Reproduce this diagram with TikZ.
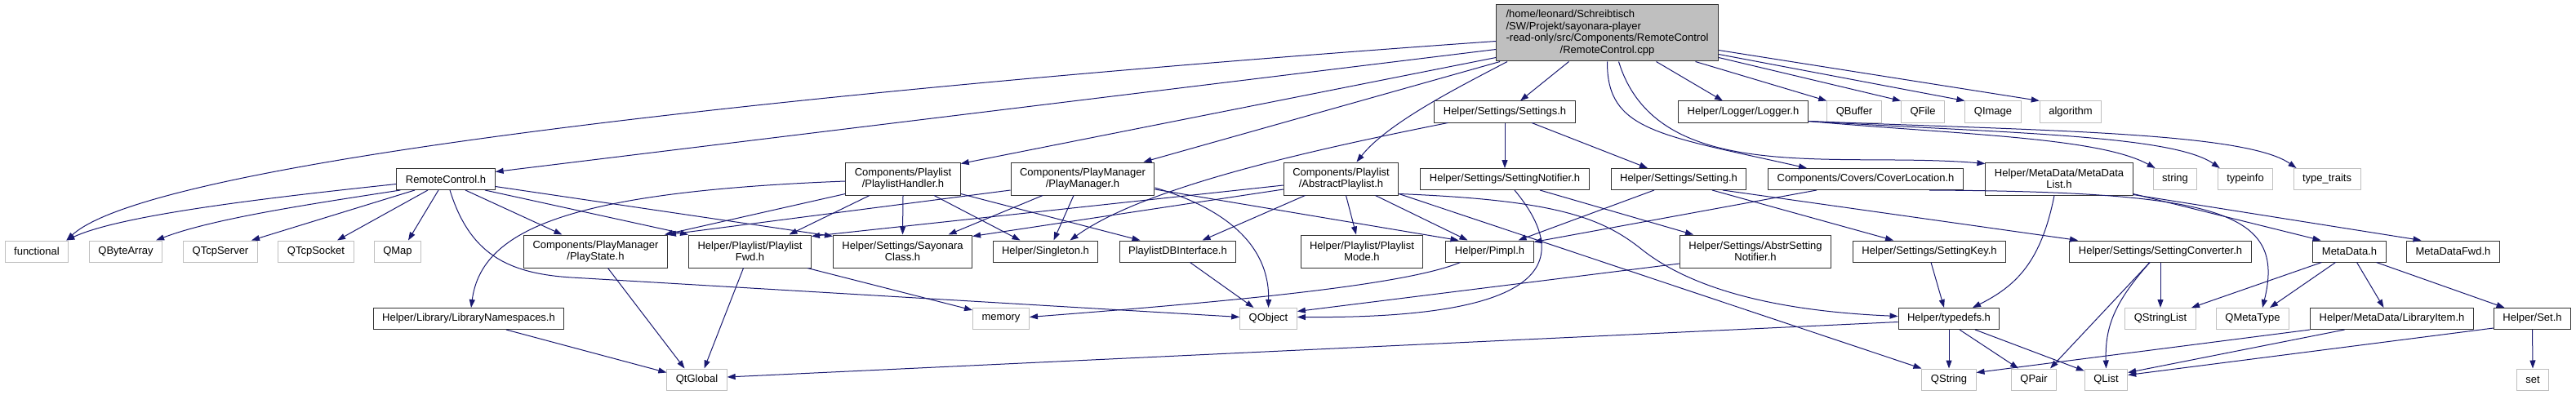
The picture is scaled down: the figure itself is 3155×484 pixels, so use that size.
\documentclass[tikz,border=0pt]{standalone}
\usepackage{fontspec}
\setmainfont{Liberation Sans}
\usetikzlibrary{arrows.meta}
\definecolor{cEdge}{HTML}{191970}
\definecolor{cExt}{HTML}{BFBFBF}
\definecolor{cSrc}{HTML}{BFBFBF}
\definecolor{cInk}{HTML}{000000}
\tikzset{
  hdr/.style={draw=cInk!80, fill=white, line width=1pt, minimum height=26pt,
    inner xsep=11pt, inner ysep=2pt, align=center, text=cInk,
    font=\fontsize{13}{14.5}\selectfont},
  hdrtwo/.style={hdr, minimum height=40pt},
  sysh/.style={hdr, draw=cExt},
  srcfile/.style={hdr, fill=cSrc, inner xsep=12pt, minimum height=69pt},
  dep/.style={-{Triangle[length=10pt,width=7pt]}, line width=1pt, color=cEdge},
}

\begin{document}
\begin{tikzpicture}[x=1pt, y=-1pt]
  \useasboundingbox (0,0) rectangle (3155,484);

  % ---------- source file ----------
  \node[srcfile] (cpp) at (1968.5,40.5)
    {\begin{tabular}{@{}l@{}}/home/leonard/Schreibtisch\\/SW/Projekt/sayonara-player\\-read-only/src/Components/RemoteControl\\\multicolumn{1}{@{}c@{}}{/RemoteControl.cpp}\end{tabular}};

  % ---------- row 2 ----------
  \node[hdr]  (settings)  at (1843,137) {Helper/Settings/Settings.h};
  \node[hdr]  (logger)    at (2135,137) {Helper/Logger/Logger.h};
  \node[sysh] (qbuffer)   at (2271,137) {QBuffer};
  \node[sysh] (qfile)     at (2355,137) {QFile};
  \node[sysh] (qimage)    at (2441,137) {QImage};
  \node[sysh] (algorithm) at (2536,137) {algorithm};

  % ---------- row 3 ----------
  \node[hdr]    (rch)        at (546,219.5)  {RemoteControl.h};
  \node[hdrtwo] (handler)    at (1106,219)   {Components/Playlist\\/PlaylistHandler.h};
  \node[hdrtwo] (playmgr)    at (1326,219)   {Components/PlayManager\\/PlayManager.h};
  \node[hdrtwo] (abstract)   at (1642.5,219) {Components/Playlist\\/AbstractPlaylist.h};
  \node[hdr]    (notifier)   at (1843,219.5) {Helper/Settings/SettingNotifier.h};
  \node[hdr]    (setting)    at (2056,219.5) {Helper/Settings/Setting.h};
  \node[hdr]    (cover)      at (2285,219.5) {Components/Covers/CoverLocation.h};
  \node[hdrtwo] (mdlist)     at (2522,219)   {Helper/MetaData/MetaData\\List.h};
  \node[sysh]   (string)     at (2664,219.5) {string};
  \node[sysh]   (typeinfo)   at (2750,219.5) {typeinfo};
  \node[sysh]   (typetraits) at (2850,219.5) {type\_traits};

  % ---------- row 4 ----------
  \node[sysh]   (functional) at (45,308)   {functional};
  \node[sysh]   (qbytearray) at (154,308)  {QByteArray};
  \node[sysh]   (qtcpserver) at (270,308)  {QTcpServer};
  \node[sysh]   (qtcpsocket) at (387,308)  {QTcpSocket};
  \node[sysh]   (qmap)       at (487,308)  {QMap};
  \node[hdrtwo] (playstate)  at (729.5,308) {Components/PlayManager\\/PlayState.h};
  \node[hdrtwo] (fwd)        at (918.5,308) {Helper/Playlist/Playlist\\Fwd.h};
  \node[hdrtwo] (sayonara)   at (1105.5,308) {Helper/Settings/Sayonara\\Class.h};
  \node[hdr]    (singleton)  at (1280.5,308) {Helper/Singleton.h};
  \node[hdr]    (dbif)       at (1442.5,308) {PlaylistDBInterface.h};
  \node[hdrtwo] (mode)       at (1668,308)  {Helper/Playlist/Playlist\\Mode.h};
  \node[hdr]    (pimpl)      at (1824.5,308) {Helper/Pimpl.h};
  \node[hdrtwo] (abstrnot)   at (2150,308)  {Helper/Settings/AbstrSetting\\Notifier.h};
  \node[hdr]    (key)        at (2363,308)  {Helper/Settings/SettingKey.h};
  \node[hdr]    (converter)  at (2646,308)  {Helper/Settings/SettingConverter.h};
  \node[hdr]    (metadata)   at (2877.5,308) {MetaData.h};
  \node[hdr]    (mdfwd)      at (3004.5,308) {MetaDataFwd.h};

  % ---------- row 5 ----------
  \node[hdr]  (libns)       at (574,390.5)  {Helper/Library/LibraryNamespaces.h};
  \node[sysh] (memory)      at (1226,390.5) {memory};
  \node[sysh] (qobject)     at (1553.5,390.5) {QObject};
  \node[hdr]  (typedefs)    at (2387,390.5) {Helper/typedefs.h};
  \node[sysh] (qstringlist) at (2646,390.5) {QStringList};
  \node[sysh] (qmetatype)   at (2759,390.5) {QMetaType};
  \node[hdr]  (libitem)     at (2929.5,390.5) {Helper/MetaData/LibraryItem.h};
  \node[hdr]  (setH)        at (3101.5,390.5) {Helper/Set.h};

  % ---------- row 6 ----------
  \node[sysh] (qtglobal) at (853.5,465) {QtGlobal};
  \node[sysh] (qstring)  at (2387,465)  {QString};
  \node[sysh] (qpair)    at (2491,465)  {QPair};
  \node[sysh] (qlist)    at (2579.5,465) {QList};
  \node[sysh] (set)      at (3102,465)  {set};

  % ---------- includes of the source file ----------
  \draw[dep] ([yshift=-10pt]cpp.west) .. controls (1200,95) and (200,185) .. ([xshift=-3pt]functional.north east);
  \draw[dep] ([yshift=-20pt]cpp.west) -- ([yshift=9pt]rch.east);
  \draw[dep] ([yshift=-30pt]cpp.west) -- ([yshift=-2pt]handler.north east);
  \draw[dep] ([xshift=5pt]cpp.south west) -- ([xshift=-14pt]playmgr.north east);
  \draw[dep] ([xshift=14pt]cpp.south west) .. controls (1790,105) and (1700,150) .. ([xshift=19pt]abstract.north);
  \draw[dep] ([xshift=-47pt]cpp.south) -- ([xshift=19pt]settings.north);
  \draw[dep] (cpp.south) .. controls (1968,160) and (2030,165) .. ([xshift=-72pt]cover.north);
  \draw[dep] ([xshift=14pt]cpp.south) .. controls (2030,230) and (2250,185) .. ([yshift=-2pt]mdlist.north west);
  \draw[dep] ([xshift=60pt]cpp.south) -- ([xshift=-25pt]logger.north);
  \draw[dep] ([xshift=108pt]cpp.south) -- (qbuffer.north west);
  \draw[dep] ([yshift=-30pt]cpp.east) -- (qfile.north west);
  \draw[dep] ([yshift=-26pt]cpp.east) -- (qimage.north west);
  \draw[dep] ([yshift=-21pt]cpp.east) -- (algorithm.north west);

  % ---------- RemoteControl.h ----------
  \draw[dep] ([yshift=-6pt]rch.west) .. controls (350,240) and (150,262) .. ([xshift=-3pt]functional.north east);
  \draw[dep] ([xshift=5pt]rch.south west) .. controls (380,250) and (260,268) .. ([xshift=-8pt]qbytearray.north east);
  \draw[dep] ([xshift=-38pt]rch.south) -- ([xshift=38pt]qtcpserver.north);
  \draw[dep] ([xshift=-22pt]rch.south) -- ([xshift=26pt]qtcpsocket.north);
  \draw[dep] ([xshift=-9pt]rch.south) -- ([xshift=13pt]qmap.north);
  \draw[dep] ([xshift=5pt]rch.south) .. controls (575,310) and (620,335) .. (700,340) -- ([yshift=2pt]qobject.west);
  \draw[dep] ([xshift=24pt]rch.south) -- ([xshift=-41pt]playstate.north);
  \draw[dep] ([xshift=48pt]rch.south) -- (fwd.north west);
  \draw[dep] ([yshift=-9pt]rch.east) -- ([yshift=-2pt]sayonara.north west);

  % ---------- playlist and play manager ----------
  \draw[dep] ([yshift=-3pt]handler.west) .. controls (700,235) and (590,280) .. ([xshift=3pt]libns.north);
  \draw[dep] ([yshift=2pt]handler.south west) -- ([xshift=-4pt]playstate.north east);
  \draw[dep] ([xshift=-41pt]handler.south) -- ([xshift=48pt]fwd.north);
  \draw[dep] (handler.south) -- (sayonara.north);
  \draw[dep] ([xshift=38pt]handler.south) -- ([xshift=-31pt]singleton.north);
  \draw[dep] ([yshift=2pt]handler.south east) -- ([xshift=-46pt]dbif.north);

  \draw[dep] ([yshift=-14pt]playmgr.west) -- (playstate.north east);
  \draw[dep] ([xshift=-49pt]playmgr.south) -- ([xshift=56pt]sayonara.north);
  \draw[dep] ([xshift=-11pt]playmgr.south) -- ([xshift=10pt]singleton.north);
  \draw[dep] ([yshift=-11pt]playmgr.east) .. controls (1500,255) and (1555,300) .. (qobject.north);
  \draw[dep] ([yshift=-13pt]playmgr.east) -- ([xshift=-38pt]pimpl.north);

  \draw[dep] ([yshift=-8pt]abstract.west) -- ([yshift=-2pt]fwd.north east);
  \draw[dep] ([yshift=-13pt]abstract.west) -- ([yshift=-2pt]sayonara.north east);
  \draw[dep] ([xshift=-44pt]abstract.south) -- ([xshift=30pt]dbif.north);
  \draw[dep] ([xshift=6pt]abstract.south) -- ([xshift=-7pt]mode.north);
  \draw[dep] ([xshift=42pt]abstract.south) -- ([xshift=-27pt]pimpl.north);
  \draw[dep] ([yshift=2pt]abstract.south east) -- (qstring.north west);
  \draw[dep] ([yshift=2pt]abstract.south east) .. controls (1900,245) and (1960,265) .. (2010,305)
    .. controls (2060,345) and (2150,380) .. ([yshift=3pt]typedefs.west);

  % ---------- settings and logger ----------
  \draw[dep] ([xshift=17pt]settings.south west) .. controls (1600,185) and (1400,230) .. ([xshift=30pt]singleton.north);
  \draw[dep] (settings.south) -- (notifier.north);
  \draw[dep] ([xshift=33pt]settings.south) -- ([xshift=-38pt]setting.north);

  \draw[dep] ([yshift=2pt]logger.south east) .. controls (2400,165) and (2570,168) .. ([xshift=3pt]string.north west);
  \draw[dep] ([yshift=2pt]logger.south east) .. controls (2450,163) and (2660,165) .. ([xshift=3pt]typeinfo.north west);
  \draw[dep] ([yshift=2pt]logger.south east) .. controls (2500,160) and (2750,162) .. ([xshift=4pt]typetraits.north west);

  \draw[dep] ([xshift=12pt]notifier.south) .. controls (1960,360) and (1800,390) .. ([yshift=2pt]qobject.east);
  \draw[dep] ([xshift=43pt]notifier.south) -- ([xshift=-76pt]abstrnot.north);

  \draw[dep] ([xshift=-30pt]setting.south) -- ([xshift=35pt]pimpl.north);
  \draw[dep] ([xshift=41pt]setting.south) -- ([xshift=-44pt]key.north);
  \draw[dep] ([xshift=54pt]setting.south) -- ([xshift=-101pt]converter.north);

  \draw[dep] ([xshift=-60pt]cover.south) -- ([yshift=-2pt]pimpl.north east);
  \draw[dep] ([xshift=78pt]cover.south) .. controls (2720,235) and (2800,260) .. ([xshift=12pt]qmetatype.north);

  \draw[dep] ([xshift=-6pt]mdlist.south) .. controls (2500,320) and (2470,350) .. ([xshift=29pt]typedefs.north);
  \draw[dep] ([yshift=2pt]mdlist.south east) -- ([xshift=-35pt]metadata.north);
  \draw[dep] ([yshift=1pt]mdlist.south east) -- ([xshift=-39pt]mdfwd.north);

  % ---------- lower levels ----------
  \draw[dep] ([xshift=15pt]playstate.south) -- ([xshift=-15pt]qtglobal.north);
  \draw[dep] ([xshift=46pt]libns.south) -- ([yshift=-5pt]qtglobal.north west);
  \draw[dep] ([xshift=-8pt]fwd.south) -- ([xshift=9pt]qtglobal.north);
  \draw[dep] ([xshift=-5pt]fwd.south east) -- ([yshift=-3pt]memory.north west);
  \draw[dep] ([xshift=15pt]dbif.south) -- ([xshift=-18pt]qobject.north);
  \draw[dep] ([xshift=-36pt]pimpl.south) .. controls (1720,350) and (1500,370) .. ([yshift=2pt]memory.east);
  \draw[dep] ([yshift=-15pt]abstrnot.west) -- ([yshift=9pt]qobject.east);
  \draw[dep] ([xshift=2pt]key.south) -- ([xshift=-6pt]typedefs.north);

  \draw[dep] ([yshift=-4pt]typedefs.west) -- ([yshift=3pt]qtglobal.east);
  \draw[dep] (typedefs.south) -- (qstring.north);
  \draw[dep] ([xshift=13pt]typedefs.south) -- ([xshift=-19pt]qpair.north);
  \draw[dep] ([xshift=32pt]typedefs.south) -- ([yshift=-3pt]qlist.north west);

  \draw[dep] (converter.south) -- (qstringlist.north);
  \draw[dep] ([xshift=-13pt]converter.south) -- ([xshift=20pt]qpair.north);
  \draw[dep] ([xshift=-13pt]converter.south) .. controls (2590,370) and (2578,400) .. (qlist.north);

  \draw[dep] ([xshift=-34pt]metadata.south) -- ([xshift=38pt]qstringlist.north);
  \draw[dep] ([xshift=-17pt]metadata.south) -- ([xshift=21pt]qmetatype.north);
  \draw[dep] ([xshift=9pt]metadata.south) -- ([xshift=-10pt]libitem.north);
  \draw[dep] ([xshift=33pt]metadata.south) -- ([xshift=-34pt]setH.north);

  \draw[dep] (libitem.south west) -- ([yshift=-5pt]qstring.north east);
  \draw[dep] ([xshift=-58pt]libitem.south) -- ([yshift=-5pt]qlist.north east);
  \draw[dep] ([yshift=2pt]setH.south west) -- ([yshift=-8pt]qlist.north east);
  \draw[dep] (setH.south) -- (set.north);

\end{tikzpicture}
\end{document}
